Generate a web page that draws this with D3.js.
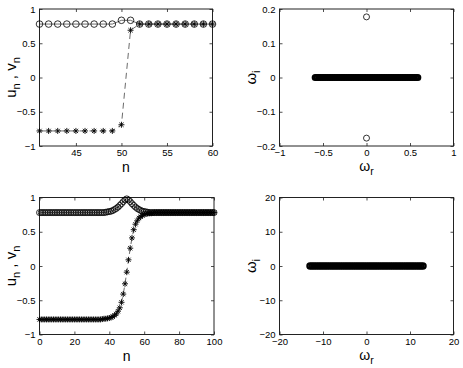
<!DOCTYPE html>
<html><head><meta charset="utf-8">
<script src="https://cdn.jsdelivr.net/npm/d3@7"></script>
<style>
body{margin:0;background:#fff}
svg{display:block}
text{font-family:"Liberation Sans",Arial,Helvetica,sans-serif;fill:#000}
</style>
</head><body>
<svg id="chart" width="463" height="368"></svg>
<script>
// ---------- Data ----------
// Panel A (top-left): zoom on sites n = 41..60
const nA = [41,42,43,44,45,46,47,48,49,50,51,52,53,54,55,56,57,58,59,60];
const uA = [0.78,0.78,0.78,0.78,0.78,0.78,0.78,0.78,0.78,0.835,0.835,0.78,0.78,0.78,0.78,0.78,0.78,0.78,0.78,0.78];
const vA = [-0.78,-0.78,-0.78,-0.78,-0.78,-0.78,-0.78,-0.78,-0.78,-0.69,0.69,0.78,0.78,0.78,0.78,0.78,0.78,0.78,0.78,0.78];

// Panel B (top-right): spectrum
const bandReB = [-0.59,-0.57,-0.55,-0.53,-0.51,-0.49,-0.47,-0.45,-0.43,-0.41,-0.39,-0.37,-0.35,-0.33,-0.31,-0.29,-0.27,-0.25,-0.23,-0.21,-0.19,-0.17,-0.15,-0.13,-0.11,-0.09,-0.07,-0.05,-0.03,-0.01,
                 0.01,0.03,0.05,0.07,0.09,0.11,0.13,0.15,0.17,0.19,0.21,0.23,0.25,0.27,0.29,0.31,0.33,0.35,0.37,0.39,0.41,0.43,0.45,0.47,0.49,0.51,0.53,0.55,0.57,0.59];
const isoReB = [0, 0];
const isoImB = [0.177, -0.177];

// Panel C (bottom-left): sites n = 0..100
const nC = [0,1,2,3,4,5,6,7,8,9,10,11,12,13,14,15,16,17,18,19,20,21,22,23,24,25,26,27,28,29,30,31,32,33,34,35,36,37,38,39,40,
            41,42,43,44,45,46,47,48,49,50,51,52,53,54,55,56,57,58,59,60,61,62,63,64,65,66,67,68,69,70,71,72,73,74,75,76,77,78,79,80,
            81,82,83,84,85,86,87,88,89,90,91,92,93,94,95,96,97,98,99,100];
const uC = [0.78,0.78,0.78,0.78,0.78,0.78,0.78,0.78,0.78,0.78,
            0.78,0.78,0.78,0.78,0.78,0.78,0.78,0.78,0.78,0.78,
            0.78,0.78,0.78,0.78,0.78,0.78,0.78,0.78,0.78,0.78,
            0.78,0.78,0.78,0.78,0.78,0.78,0.78,0.78,0.785,0.79,
            0.795,0.80,0.81,0.825,0.84,0.86,0.885,0.91,0.94,0.965,
            0.98,0.965,0.94,0.91,0.885,0.86,0.84,0.825,0.81,0.80,
            0.795,0.79,0.785,0.78,0.78,0.78,0.78,0.78,0.78,0.78,
            0.78,0.78,0.78,0.78,0.78,0.78,0.78,0.78,0.78,0.78,
            0.78,0.78,0.78,0.78,0.78,0.78,0.78,0.78,0.78,0.78,
            0.78,0.78,0.78,0.78,0.78,0.78,0.78,0.78,0.78,0.78,
            0.78];
const vC = [-0.78,-0.78,-0.78,-0.78,-0.78,-0.78,-0.78,-0.78,-0.78,-0.78,
            -0.78,-0.78,-0.78,-0.78,-0.78,-0.78,-0.78,-0.78,-0.78,-0.78,
            -0.78,-0.78,-0.78,-0.78,-0.78,-0.78,-0.78,-0.78,-0.78,-0.78,
            -0.78,-0.78,-0.78,-0.78,-0.78,-0.78,-0.775,-0.77,-0.77,-0.765,
            -0.76,-0.75,-0.74,-0.72,-0.70,-0.66,-0.61,-0.53,-0.41,-0.26,
            -0.09,0.09,0.26,0.41,0.53,0.61,0.66,0.70,0.72,0.74,
            0.75,0.76,0.765,0.77,0.77,0.775,0.78,0.78,0.78,0.78,
            0.78,0.78,0.78,0.78,0.78,0.78,0.78,0.78,0.78,0.78,
            0.78,0.78,0.78,0.78,0.78,0.78,0.78,0.78,0.78,0.78,
            0.78,0.78,0.78,0.78,0.78,0.78,0.78,0.78,0.78,0.78,
            0.78];

// Panel D (bottom-right): spectrum
const bandReD = [-13,-12.5,-12,-11.5,-11,-10.5,-10,-9.5,-9,-8.5,-8,-7.5,-7,-6.5,-6,-5.5,-5,-4.5,-4,-3.5,-3,-2.5,-2,-1.5,-1,-0.5,0,
                 0.5,1,1.5,2,2.5,3,3.5,4,4.5,5,5.5,6,6.5,7,7.5,8,8.5,9,9.5,10,10.5,11,11.5,12,12.5,13];

// Tick values
const xTicksA = [45,50,55,60];
const yTicksA = [-1,-0.5,0,0.5,1];
const xTicksB = [-1,-0.5,0,0.5,1];
const yTicksB = [-0.2,-0.1,0,0.1,0.2];
const xTicksC = [0,20,40,60,80,100];
const yTicksC = [-1,-0.5,0,0.5,1];
const xTicksD = [-20,-10,0,10,20];
const yTicksD = [-20,-10,0,10,20];

// ---------- Drawing ----------
const svg = d3.select("#chart");
const fmt = v => String(v).replace("-", "\u2212");

function panel(box, xDom, yDom, xTicks, yTicks, xOff) {
  const g = svg.append("g");
  const x = d3.scaleLinear().domain(xDom).range([box.x0, box.x1]);
  const y = d3.scaleLinear().domain(yDom).range([box.y1, box.y0]);
  const tl = 3;
  const specs = [
    [d3.axisBottom(x).tickValues(xTicks).tickSizeInner(-tl).tickSizeOuter(0).tickFormat(fmt), `translate(0,${box.y1})`, "b"],
    [d3.axisTop(x).tickValues(xTicks).tickSizeInner(-tl).tickSizeOuter(0).tickFormat(""), `translate(0,${box.y0})`, "t"],
    [d3.axisLeft(y).tickValues(yTicks).tickSizeInner(-tl).tickSizeOuter(0).tickFormat(fmt), `translate(${box.x0},0)`, "l"],
    [d3.axisRight(y).tickValues(yTicks).tickSizeInner(-tl).tickSizeOuter(0).tickFormat(""), `translate(${box.x1},0)`, "r"]
  ];
  specs.forEach(([a, t, side]) => {
    const gg = g.append("g").attr("transform", t).call(a);
    gg.select(".domain").remove();
    gg.selectAll(".tick line").attr("stroke", "#222").attr("stroke-width", 0.8);
    gg.selectAll(".tick text").attr("font-size", 9.5).attr("fill", "#000")
      .style("font-family", '"Liberation Sans",Arial,sans-serif');
    if (side === "b") gg.selectAll(".tick text").attr("y", xOff).attr("dy", "0.71em");
    if (side === "l") gg.selectAll(".tick text").attr("x", -4);
  });
  g.append("rect").attr("x", box.x0).attr("y", box.y0)
    .attr("width", box.x1 - box.x0).attr("height", box.y1 - box.y0)
    .attr("fill", "none").attr("stroke", "#222").attr("stroke-width", 1);
  return {g, x, y};
}

function starPath(r) {
  const d = r * Math.SQRT1_2;
  return `M${-r},0L${r},0M0,${-r}L0,${r}M${-d},${-d}L${d},${d}M${-d},${d}L${d},${-d}`;
}

function circles(p, xs, ys, r, sw) {
  p.g.append("g").selectAll("circle").data(xs).join("circle")
    .attr("cx", (d) => p.x(d)).attr("cy", (d, i) => p.y(ys[i]))
    .attr("r", r).attr("fill", "none").attr("stroke", "#000").attr("stroke-width", sw);
}
function stars(p, xs, ys, r) {
  p.g.append("g").selectAll("path").data(xs).join("path")
    .attr("transform", (d, i) => `translate(${p.x(d)},${p.y(ys[i])})`)
    .attr("d", starPath(r)).attr("fill", "none").attr("stroke", "#000").attr("stroke-width", 0.9);
}
function line(p, xs, ys, dash) {
  const l = d3.line().x(d => p.x(d[0])).y(d => p.y(d[1]));
  p.g.append("path").attr("d", l(xs.map((d, i) => [d, ys[i]])))
    .attr("fill", "none").attr("stroke", "#444").attr("stroke-width", 0.8)
    .attr("stroke-dasharray", dash || null);
}

function yLabel(box, parts) {
  const t = svg.append("text")
    .attr("transform", `translate(${box.x0 - 24},${(box.y0 + box.y1) / 2}) rotate(-90)`)
    .attr("text-anchor", "middle").attr("font-size", 15);
  let prevSub = false;
  parts.forEach(([s, sub]) => {
    const ts = t.append("tspan").text(s);
    if (sub) { ts.attr("font-size", 11).attr("dy", 4); prevSub = true; }
    else if (prevSub) { ts.attr("dy", -4); prevSub = false; }
  });
}
function xLabel(box, parts, off) {
  const t = svg.append("text")
    .attr("x", (box.x0 + box.x1) / 2).attr("y", box.y1 + off)
    .attr("text-anchor", "middle").attr("font-size", 14);
  parts.forEach(([s, sub]) => {
    const ts = t.append("tspan").text(s);
    if (sub) ts.attr("font-size", 10.5).attr("dy", 4);
  });
}

const boxA = {x0: 39.5, x1: 212.5, y0: 9, y1: 146};
const boxB = {x0: 279.5, x1: 453.5, y0: 9, y1: 146};
const boxC = {x0: 39.5, x1: 214, y0: 197.5, y1: 334.5};
const boxD = {x0: 279.5, x1: 453.5, y0: 197.5, y1: 334.5};

const pA = panel(boxA, [41, 60], [-1, 1], xTicksA, yTicksA, 3.5);
line(pA, nA, uA);
line(pA, nA, vA, "6,4");
circles(pA, nA, uA, 3.3, 0.8);
stars(pA, nA, vA, 3);

const pB = panel(boxB, [-1, 1], [-0.2, 0.2], xTicksB, yTicksB, 3.5);
circles(pB, bandReB, bandReB.map(() => 0), 2.4, 2.2);
circles(pB, isoReB, isoImB, 3, 0.8);

const pC = panel(boxC, [0, 100], [-1, 1], xTicksC, yTicksC, 4);
line(pC, nC, uC);
line(pC, nC, vC, "6,4");
circles(pC, nC, uC, 3, 0.8);
stars(pC, nC, vC, 3);

const pD = panel(boxD, [-20, 20], [-20, 20], xTicksD, yTicksD, 3.5);
circles(pD, bandReD, bandReD.map(() => 0), 2.5, 2.4);

yLabel(boxA, [["u", 0], ["n", 1], [" , v", 0], ["n", 1]]);
xLabel(boxA, [["n", 0]], 25.5);
yLabel(boxB, [["\u03c9", 0], ["i", 1]]);
xLabel(boxB, [["\u03c9", 0], ["r", 1]], 25);
yLabel(boxC, [["u", 0], ["n", 1], [" , v", 0], ["n", 1]]);
xLabel(boxC, [["n", 0]], 26);
yLabel(boxD, [["\u03c9", 0], ["i", 1]]);
xLabel(boxD, [["\u03c9", 0], ["r", 1]], 25);
</script>
</body></html>
